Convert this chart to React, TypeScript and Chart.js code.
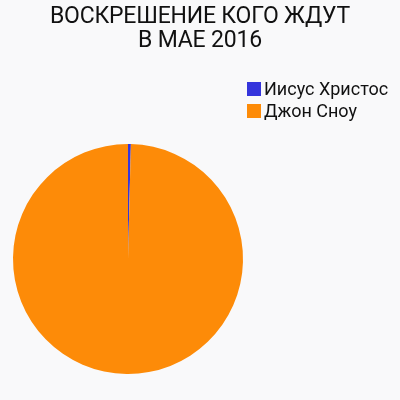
import React, { useEffect, useRef } from "react";
import { Chart, registerables } from "chart.js";

Chart.register(...registerables);

const titleLines = ["ВОСКРЕШЕНИЕ КОГО ЖДУТ", "В МАЕ 2016"];
const labels = ["Иисус Христос", "Джон Сноу"];
const values = [0.4, 99.6];
const colors = ["#3535dc", "#fd8b08"];

const FONT = "Roboto, 'Liberation Sans', Arial, sans-serif";

export default function App() {
  const ref = useRef<HTMLCanvasElement | null>(null);

  useEffect(() => {
    const prevMargin = document.body.style.margin;
    document.body.style.margin = "0";
    if (!ref.current) return;
    const chart = new Chart(ref.current, {
      type: "pie",
      data: {
        labels,
        datasets: [
          {
            data: values,
            backgroundColor: colors,
            borderWidth: 0,
          },
        ],
      },
      options: {
        animation: false,
        responsive: false,
        maintainAspectRatio: false,
        layout: { padding: { left: 13, right: 157, top: 144, bottom: 26 } },
        plugins: {
          legend: { display: false },
          tooltip: { enabled: false },
          title: { display: false },
        },
      },
    });
    return () => {
      chart.destroy();
      document.body.style.margin = prevMargin;
    };
  }, []);

  return (
    <div style={{ position: "fixed", left: 0, top: 0, width: 400, height: 400, background: "#f9f9fa" }}>
      <canvas ref={ref} width={400} height={400} style={{ width: 400, height: 400, display: "block" }} />
      <div
        style={{
          position: "absolute",
          left: 0,
          top: 4,
          width: 400,
          textAlign: "center",
          fontFamily: FONT,
          fontSize: 23,
          letterSpacing: "-0.2px",
          lineHeight: "23.5px",
          color: "#111111",
        }}
      >
        {titleLines.map((t) => (
          <div key={t}>{t}</div>
        ))}
      </div>
      <div
        style={{
          position: "absolute",
          left: 247,
          top: 78,
          fontFamily: FONT,
          fontSize: 18,
          lineHeight: "22px",
          color: "#111111",
        }}
      >
        {labels.map((l, i) => (
          <div key={l} style={{ display: "flex", alignItems: "center", whiteSpace: "nowrap" }}>
            <span style={{ display: "inline-block", width: 14, height: 14, background: colors[i], marginRight: 3 }} />
            <span>{l}</span>
          </div>
        ))}
      </div>
    </div>
  );
}
